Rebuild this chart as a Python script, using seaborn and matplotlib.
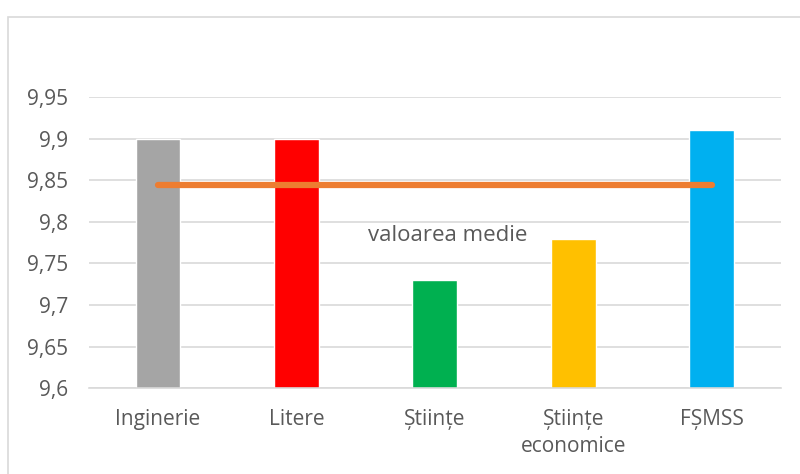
import pandas as pd
import matplotlib.pyplot as plt
import seaborn as sns
from matplotlib.patches import Rectangle

# --- data ---
facultati = ['Inginerie', 'Litere', 'Științe', 'Științe\neconomice', 'FȘMSS']
note = [9.90, 9.90, 9.73, 9.78, 9.91]
culori = ['#A5A5A5', '#FF0000', '#00B050', '#FFC000', '#00B0F0']
y_ticks = [9.6, 9.65, 9.7, 9.75, 9.8, 9.85, 9.9, 9.95]

df = pd.DataFrame({'Facultate': facultati, 'Nota': note})
media = df['Nota'].mean()

sns.set_theme(style='white')
plt.rcParams['font.family'] = ['Open Sans', 'DejaVu Sans']
text_col = '#595959'

fig = plt.figure(figsize=(8, 4.74), dpi=100)
ax = fig.add_axes([0.111, 0.181, 0.865, 0.614])

sns.barplot(data=df, x='Facultate', y='Nota', hue='Facultate', palette=culori,
            width=0.325, legend=False, ax=ax, saturation=1)

# mean line between first and last category
ax.plot([0, len(facultati) - 1], [media, media], color='#ED7D31', lw=4.5,
        solid_capstyle='round', zorder=3)
ax.text(2.09, 9.784, 'valoarea medie', ha='center', va='center',
        fontsize=16, color=text_col)

ax.set_ylim(9.6, 9.95)
ax.set_xlim(-0.5, len(facultati) - 0.5)
ax.set_yticks(y_ticks)
ax.set_yticklabels([f'{v:g}'.replace('.', ',') for v in y_ticks])
ax.yaxis.grid(True, color='#D9D9D9', lw=1.2)
ax.set_axisbelow(True)
for s in ['top', 'right', 'left']:
    ax.spines[s].set_visible(False)
ax.spines['bottom'].set_color('#D9D9D9')
ax.spines['bottom'].set_linewidth(1.2)
ax.tick_params(axis='y', length=0, pad=15, labelsize=15, labelcolor=text_col)
ax.tick_params(axis='x', length=0, pad=15, labelsize=15, labelcolor=text_col)
for lbl in ax.get_xticklabels():
    lbl.set_linespacing(1.35)
ax.set_xlabel('')
ax.set_ylabel('')

# chart border
fig.patches.append(Rectangle((8 / 800, -0.1), 1.2, (474 - 17) / 474 + 0.1,
                             transform=fig.transFigure, fill=False,
                             edgecolor='#D9D9D9', lw=1.2))

fig.savefig('out.png', dpi=100)
